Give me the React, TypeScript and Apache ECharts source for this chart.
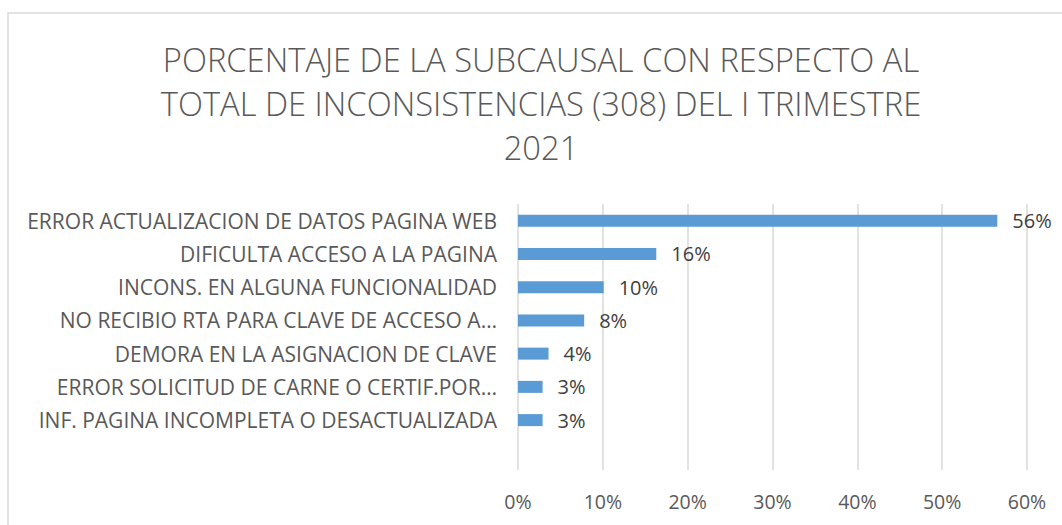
import React, { useEffect, useRef } from "react";
import * as echarts from "echarts";

const titleText =
  "PORCENTAJE DE LA SUBCAUSAL CON RESPECTO AL\nTOTAL DE INCONSISTENCIAS (308) DEL I TRIMESTRE\n2021";

// top to bottom as shown (last category is an empty row in the original chart)
const categories = [
  "ERROR ACTUALIZACION DE DATOS PAGINA WEB",
  "DIFICULTA ACCESO A LA PAGINA",
  "INCONS. EN ALGUNA FUNCIONALIDAD",
  "NO RECIBIO RTA PARA CLAVE DE ACCESO A…",
  "DEMORA EN LA ASIGNACION DE CLAVE",
  "ERROR SOLICITUD DE CARNE O CERTIF.POR…",
  "INF. PAGINA INCOMPLETA O DESACTUALIZADA",
  "",
];
const values: (number | null)[] = [0.565, 0.163, 0.101, 0.078, 0.036, 0.029, 0.029, null];
const tickMin = 0;
const tickMax = 0.6;
const tickStep = 0.1;

const FONT = "'Open Sans', sans-serif";

export default function App() {
  const ref = useRef<HTMLDivElement>(null);
  useEffect(() => {
    if (!ref.current) return;
    const chart = echarts.init(ref.current, undefined, { renderer: "svg" });
    chart.setOption({
      animation: false,
      backgroundColor: "#ffffff",
      title: {
        text: titleText,
        left: 541,
        top: 37,
        padding: 0,
        textAlign: "center",
        textStyle: {
          fontFamily: FONT,
          fontSize: 32.7,
          fontWeight: 300,
          color: "#595959",
          lineHeight: 44,
        },
      },
      graphic: [
        {
          type: "rect",
          shape: { x: 8, y: 13, width: 1100, height: 600 },
          style: { fill: "none", stroke: "#d9d9d9", lineWidth: 1.5 },
          silent: true,
        },
      ],
      grid: { left: 518, right: 35, top: 204, bottom: 55, containLabel: false },
      xAxis: {
        type: "value",
        min: tickMin,
        max: tickMax,
        interval: tickStep,
        axisLine: { show: false },
        axisTick: { show: false },
        splitLine: { lineStyle: { color: "#d9d9d9", width: 1.5 } },
        axisLabel: {
          margin: 21,
          fontFamily: FONT,
          fontSize: 19.5,
          color: "#595959",
          formatter: (v: number) => `${Math.round(v * 100)}%`,
        },
      },
      yAxis: {
        type: "category",
        inverse: true,
        data: categories,
        axisLine: { show: false },
        axisTick: { show: false },
        axisLabel: {
          margin: 21,
          fontFamily: FONT,
          fontSize: 21,
          color: "#595959",
        },
      },
      series: [
        {
          type: "bar",
          data: values,
          barWidth: 12,
          itemStyle: { color: "#5b9bd5" },
          label: {
            show: true,
            position: "right",
            distance: 15,
            fontFamily: FONT,
            fontSize: 20,
            color: "#404040",
            formatter: (p: any) => `${Math.round(p.value * 100)}%`,
          },
        },
      ],
    });
    return () => chart.dispose();
  }, []);
  return (
    <div
      ref={ref}
      style={{ position: "fixed", left: 0, top: 0, width: 1062, height: 525 }}
    />
  );
}
